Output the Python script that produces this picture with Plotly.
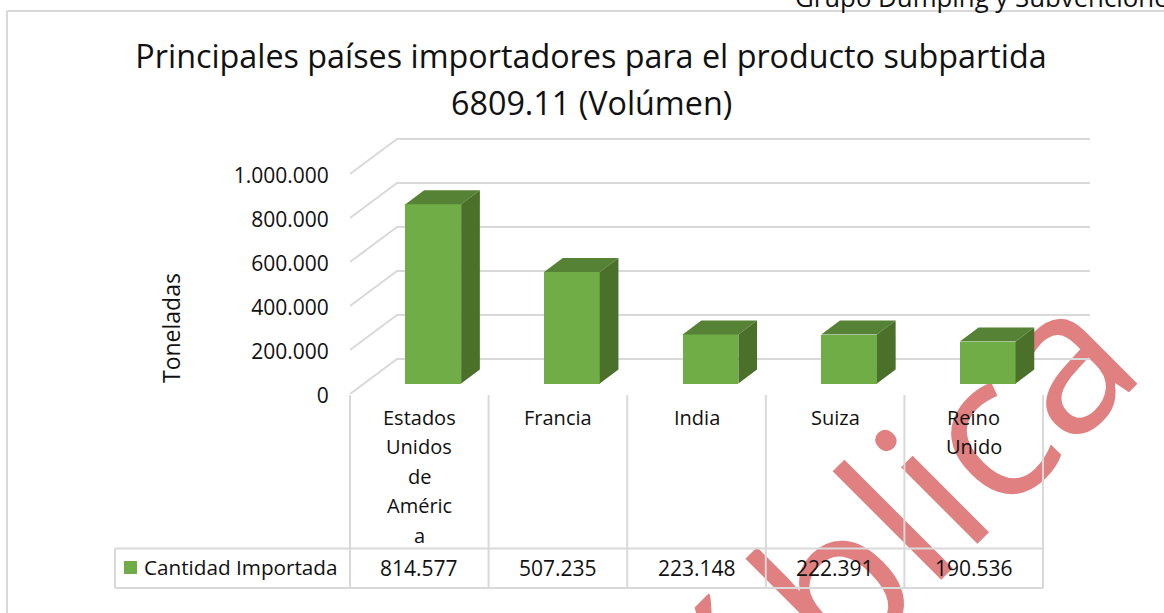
import plotly.graph_objects as go

# ---- data ----
category_lines = [["Estados", "Unidos", "de", "Améric", "a"], ["Francia"], ["India"], ["Suiza"], ["Reino", "Unido"]]
cantidad = [814577, 507235, 223148, 222391, 190536]
tick_vals = [0, 200000, 400000, 600000, 800000, 1000000]
tick_text = ["0", "200.000", "400.000", "600.000", "800.000", "1.000.000"]
series_name = "Cantidad Importada"
title_line_1 = "Principales países importadores para el producto subpartida"
title_line_2 = "6809.11 (Volúmen)"
y_title = "Toneladas"
header_text = "Grupo Dumping y Subvenciones"
watermark = "Pública"

# ---- layout constants ----
W, H = 1164, 613
L, R, T, B = 350, 1090, 130, 394
FONT = "Open Sans"
GRID = "#d9d9d9"
TXT = "#111111"
FRONT, TOP, SIDE = "#70ad47", "#568235", "#4a7029"
PX_X = 138.6          # pixels per category
PX_Y = 220 / 1e6      # pixels per tonne
WALL_DX, WALL_DY = 47 / PX_X, 35 / PX_Y
BAR_SHIFT, BAR_W = 14 / PX_X, 55.7 / PX_X
BAR_BASE = 10.5 / PX_Y
BAR_DX, BAR_DY = 18.7 / PX_X, 14 / PX_Y
xs = list(range(len(cantidad)))


def fx(px):
    return (px - L) / (R - L)


def fy(py):
    return (B - py) / (B - T)


fig = go.Figure()
fig.add_trace(go.Bar(x=[i + BAR_SHIFT for i in xs], y=cantidad, base=BAR_BASE, width=BAR_W,
                     marker=dict(color=FRONT, line=dict(color=FRONT, width=0)),
                     name=series_name, showlegend=False))
for i, v in zip(xs, cantidad):
    x0 = i + BAR_SHIFT - BAR_W / 2
    x1 = i + BAR_SHIFT + BAR_W / 2
    y0 = BAR_BASE
    y1 = BAR_BASE + v
    fig.add_trace(go.Scatter(x=[x0, x1, x1 + BAR_DX, x0 + BAR_DX, x0],
                             y=[y1, y1, y1 + BAR_DY, y1 + BAR_DY, y1],
                             fill="toself", fillcolor=TOP, mode="none",
                             showlegend=False, hoverinfo="skip"))
    fig.add_trace(go.Scatter(x=[x1, x1 + BAR_DX, x1 + BAR_DX, x1, x1],
                             y=[y0, y0 + BAR_DY, y1 + BAR_DY, y1, y0],
                             fill="toself", fillcolor=SIDE, mode="none",
                             showlegend=False, hoverinfo="skip"))

shapes = [
    # watermark behind everything, real text
    dict(type="rect", xref="paper", yref="paper", x0=fx(853), x1=fx(873), y0=fy(577), y1=fy(557),
         line=dict(width=0), fillcolor="rgba(0,0,0,0)", layer="below",
         label=dict(text=watermark, textangle=-45, textposition="middle center",
                    font=dict(family=FONT, size=202, color="#e08080"))),
]
# 3-D wall gridlines
x_left, x_right = -0.5, len(xs) - 0.5
for v in tick_vals:
    path = f"M {x_left} {v} L {x_left + WALL_DX} {v + WALL_DY} L {x_right + WALL_DX} {v + WALL_DY}"
    shapes.append(dict(type="path", xref="x", yref="y", path=path, layer="below",
                       line=dict(color=GRID, width=2)))
# data table
for i in range(len(xs) + 1):
    xv = L + i * PX_X
    shapes.append(dict(type="line", xref="paper", yref="paper", x0=fx(xv), x1=fx(xv), y0=fy(395), y1=fy(588),
                       line=dict(color=GRID, width=2), layer="above"))
table_r = L + len(xs) * PX_X
for py in (548.5, 588):
    shapes.append(dict(type="line", xref="paper", yref="paper", x0=fx(115), x1=fx(table_r), y0=fy(py), y1=fy(py),
                       line=dict(color=GRID, width=2), layer="above"))
shapes.append(dict(type="line", xref="paper", yref="paper", x0=fx(115), x1=fx(115), y0=fy(548.5), y1=fy(588),
                   line=dict(color=GRID, width=2), layer="above"))
shapes.append(dict(type="rect", xref="paper", yref="paper", x0=fx(124), x1=fx(137), y0=fy(561), y1=fy(574),
                   line=dict(width=0), fillcolor=FRONT, layer="above"))
# chart frame
shapes.append(dict(type="line", xref="paper", yref="paper", x0=fx(7), x1=fx(W), y0=fy(11), y1=fy(11),
                   line=dict(color=GRID, width=2), layer="above"))
shapes.append(dict(type="line", xref="paper", yref="paper", x0=fx(7), x1=fx(7), y0=fy(11), y1=fy(H),
                   line=dict(color=GRID, width=2), layer="above"))

ann = []


def text(px, py, s, size=20, anchor="center", angle=0):
    ann.append(dict(xref="paper", yref="paper", x=fx(px), y=fy(py), text=s, showarrow=False, xanchor=anchor,
                    yanchor="middle", textangle=angle, font=dict(family=FONT, size=size, color=TXT)))


text(171, 328, y_title, size=23, angle=-90)
text(142, 567, series_name, anchor="left", size=20.7)
text(793, -3, header_text, anchor="left", size=25.8)
text(591, 102, title_line_2, size=32.3)
for i, (lines, v) in enumerate(zip(category_lines, cantidad)):
    cx = L + (i + 0.5) * PX_X
    for j, line in enumerate(lines):
        text(cx, 417 + j * 29.5, line)
    text(cx, 567.5, f"{v:,}".replace(",", "."), size=21)

fig.update_layout(
    width=W, height=H, autosize=False,
    margin=dict(l=L, r=W - R, t=T, b=H - B, pad=0),
    paper_bgcolor="white", plot_bgcolor="white",
    bargap=0, showlegend=False,
    font=dict(family=FONT, color=TXT),
    title=dict(text=title_line_1, x=591 / W, xanchor="center", y=1 - 57 / H, yanchor="middle",
               font=dict(family=FONT, size=32.3, color=TXT)),
    xaxis=dict(range=[-0.5, x_right + WALL_DX], showgrid=False, zeroline=False, showline=False,
               showticklabels=False, ticks=""),
    yaxis=dict(range=[0, (B - T) / PX_Y], showgrid=False, zeroline=False, showline=False,
               tickmode="array", tickvals=tick_vals, ticktext=tick_text,
               ticks="outside", ticklen=16, tickcolor="rgba(0,0,0,0)", ticklabelshift=2,
               tickfont=dict(family=FONT, size=21, color=TXT)),
    shapes=shapes, annotations=ann,
)

fig.write_html("out.html", config={"displayModeBar": False},
               post_script="document.body.style.margin='0';document.body.style.overflow='hidden';")
